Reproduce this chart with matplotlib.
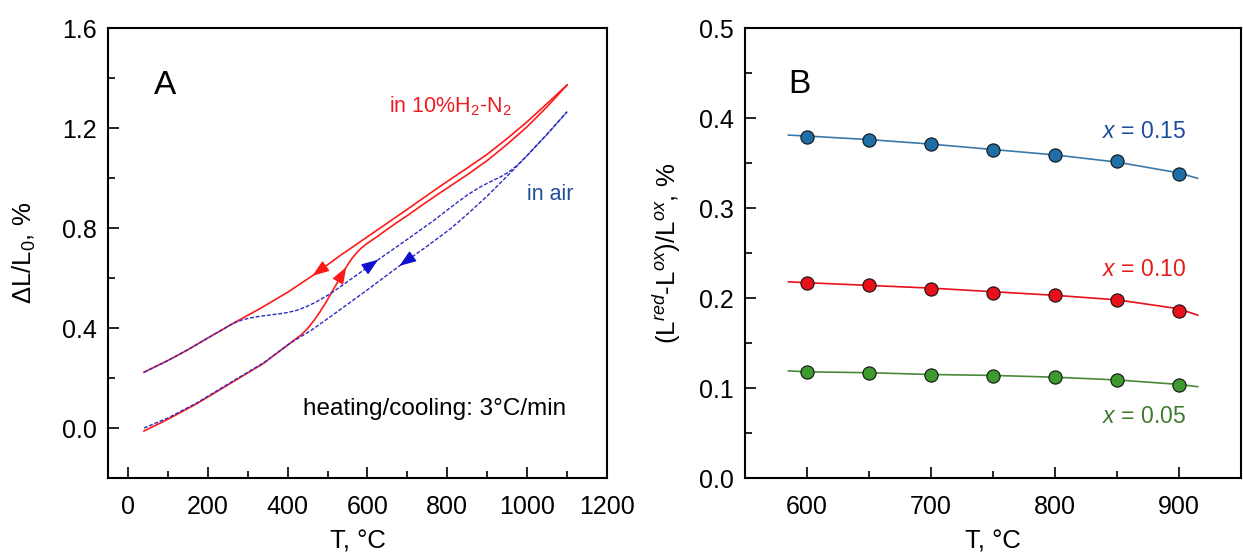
import matplotlib
matplotlib.use('Agg')
import matplotlib.pyplot as plt
import numpy as np
from matplotlib.ticker import MultipleLocator, FormatStrFormatter

## DATA -- panel A, dilatometry curves (T in C, dL/L0 in %)
T_h2_heat = [40, 100, 172, 255, 339, 406, 420, 435, 450, 465, 480, 495, 510, 525, 540,
             552, 563, 574, 586, 598, 612, 628, 648, 672, 700, 740, 783, 850, 900, 950,
             1000, 1050, 1100]
dL_h2_heat = [-0.012, 0.035, 0.097, 0.177, 0.258, 0.339, 0.356, 0.374, 0.398, 0.428,
              0.462, 0.500, 0.542, 0.583, 0.625, 0.657, 0.682, 0.703, 0.722, 0.737,
              0.752, 0.770, 0.793, 0.820, 0.850, 0.895, 0.942, 1.013, 1.070, 1.135,
              1.205, 1.285, 1.372]

T_h2_cool = [40, 100, 150, 200, 264, 330, 400, 465, 530, 600, 700, 783, 850, 900,
             950, 1000, 1050, 1100]
dL_h2_cool = [0.223, 0.270, 0.313, 0.360, 0.419, 0.477, 0.543, 0.612, 0.688, 0.765,
              0.875, 0.968, 1.040, 1.095, 1.158, 1.225, 1.298, 1.372]

T_air_heat = [40, 100, 150, 200, 264, 285, 305, 330, 356, 380, 400, 423, 445, 470,
              507, 560, 624, 700, 766, 808, 850, 880, 910, 934, 955, 976, 1000, 1050,
              1100]
dL_air_heat = [0.223, 0.270, 0.313, 0.360, 0.419, 0.432, 0.440, 0.447, 0.452, 0.457,
               0.462, 0.471, 0.484, 0.503, 0.537, 0.597, 0.670, 0.755, 0.830, 0.882,
               0.932, 0.962, 0.987, 1.005, 1.025, 1.052, 1.090, 1.175, 1.265]

T_air_cool = [40, 100, 172, 255, 339, 406, 460, 507, 600, 683, 750, 808, 850, 900,
              934, 976, 1000, 1050, 1100]
dL_air_cool = [0.000, 0.040, 0.100, 0.180, 0.260, 0.339, 0.392, 0.445, 0.553, 0.652,
               0.728, 0.797, 0.855, 0.928, 0.982, 1.050, 1.090, 1.175, 1.265]

## DATA -- panel B, relative expansion (L_red-L_ox)/L_ox vs T
T_pts = [600, 650, 700, 750, 800, 850, 900]
x015 = [0.379, 0.376, 0.371, 0.364, 0.359, 0.352, 0.338]
x010 = [0.217, 0.214, 0.210, 0.206, 0.203, 0.198, 0.186]
x005 = [0.118, 0.117, 0.115, 0.113, 0.112, 0.109, 0.103]

T_fit = [585, 600, 650, 700, 750, 800, 850, 900, 915]
fit015 = [0.381, 0.380, 0.376, 0.371, 0.365, 0.359, 0.351, 0.339, 0.333]
fit010 = [0.218, 0.217, 0.214, 0.211, 0.207, 0.203, 0.198, 0.188, 0.181]
fit005 = [0.119, 0.118, 0.117, 0.115, 0.114, 0.112, 0.109, 0.104, 0.1015]

## style
plt.rcParams['font.family'] = ['Liberation Sans', 'DejaVu Sans']
plt.rcParams['mathtext.fontset'] = 'custom'
plt.rcParams['mathtext.rm'] = 'Liberation Sans'
plt.rcParams['mathtext.it'] = 'Liberation Sans:italic'
plt.rcParams['font.size'] = 18

red = '#ff1a1a'
blue = '#2b2bc4'

fig = plt.figure(figsize=(12.43, 5.57), dpi=100)
axA = fig.add_axes([0.0869, 0.1418, 0.4014, 0.8079])
axB = fig.add_axes([0.5994, 0.1418, 0.3990, 0.8079])


def arrow_on(ax, T, dL, t_tip, back, color):
    # arrow head sitting on the curve, pointing along it
    y_tip = np.interp(t_tip, T, dL)
    y_tail = np.interp(t_tip - back, T, dL)
    ax.annotate('', xy=(t_tip, y_tip), xytext=(t_tip - back, y_tail),
                arrowprops=dict(arrowstyle='-|>,head_length=0.6,head_width=0.22',
                                mutation_scale=17, color=color, lw=1.0,
                                shrinkA=0, shrinkB=0), zorder=5)


##
## PANEL A
##
axA.plot(T_h2_heat, dL_h2_heat, color=red, lw=1.2, zorder=2)
axA.plot(T_h2_cool, dL_h2_cool, color=red, lw=1.2, zorder=2)
axA.plot(T_air_heat, dL_air_heat, color=blue, lw=1.0, dashes=(2.8, 1.3), zorder=3)
axA.plot(T_air_cool, dL_air_cool, color=blue, lw=1.0, dashes=(2.8, 1.3), zorder=3)

arrow_on(axA, T_h2_cool, dL_h2_cool, 462, -28, red)
arrow_on(axA, T_h2_heat, dL_h2_heat, 547, 12, red)
arrow_on(axA, T_air_heat, dL_air_heat, 627, 28, '#1010d0')
arrow_on(axA, T_air_cool, dL_air_cool, 680, -28, '#1010d0')

axA.text(92, 1.372, 'A', fontsize=24, ha='center', va='center')
axA.text(808, 1.287, 'in 10%H$_2$-N$_2$', color='#ee1c24', fontsize=15.5,
         ha='center', va='center')
axA.text(1059, 0.935, 'in air', color='#1f4e9c', fontsize=15.5,
         ha='center', va='center')
axA.text(1097, 0.075, 'heating/cooling: 3°C/min', fontsize=17.5, ha='right', va='center')

axA.set_xlim(-50, 1200)
axA.set_ylim(-0.2, 1.6)
axA.xaxis.set_major_locator(MultipleLocator(200))
axA.xaxis.set_minor_locator(MultipleLocator(100))
axA.yaxis.set_major_locator(MultipleLocator(0.4))
axA.yaxis.set_minor_locator(MultipleLocator(0.2))
axA.yaxis.set_major_formatter(FormatStrFormatter('%.1f'))
axA.set_xlabel('T, °C', fontsize=18.5, labelpad=8)
axA.set_ylabel('ΔL/L$_0$, %', fontsize=18.5)
axA.yaxis.set_label_coords(-0.14, 0.5)

##
## PANEL B
##
series = [(fit015, x015, '#1f6ea6', '#3a7aaa', '#1a4d9c', 0.15, 0.385),
          (fit010, x010, '#e8101a', '#e8101a', '#e41b1b', 0.10, 0.232),
          (fit005, x005, '#3e9a2e', '#4a8a3a', '#3e7a2e', 0.05, 0.068)]
for fit, pts, mcol, lcol, tcol, xval, ylab in series:
    axB.plot(T_fit, fit, color=lcol, lw=1.2, zorder=2)
    axB.plot(T_pts, pts, 'o', ms=9.5, mfc=mcol, mec='#111111', mew=0.8, zorder=3)
    axB.text(906, ylab, '$x$ = %.2f' % xval, color=tcol, fontsize=16.5,
             ha='right', va='center')

axB.text(594, 0.437, 'B', fontsize=24, ha='center', va='center')

axB.set_xlim(550, 950)
axB.set_ylim(0.0, 0.5)
axB.xaxis.set_major_locator(MultipleLocator(100))
axB.xaxis.set_minor_locator(MultipleLocator(50))
axB.yaxis.set_major_locator(MultipleLocator(0.1))
axB.yaxis.set_minor_locator(MultipleLocator(0.05))
axB.set_xlabel('T, °C', fontsize=18.5, labelpad=8)
axB.set_ylabel('(L$^{red}$-L$^{ox}$)/L$^{ox}$, %', fontsize=18.5)
axB.yaxis.set_label_coords(-0.125, 0.5)

for ax in (axA, axB):
    ax.tick_params(which='both', direction='in', width=1.2, labelsize=18)
    ax.tick_params(axis='x', which='both', pad=12)
    ax.tick_params(axis='y', which='both', pad=8)
    ax.tick_params(which='major', length=8)
    ax.tick_params(which='minor', length=5)
    for sp in ax.spines.values():
        sp.set_linewidth(1.5)

plt.savefig('out.png', format='png', dpi=100)
plt.close(fig)
